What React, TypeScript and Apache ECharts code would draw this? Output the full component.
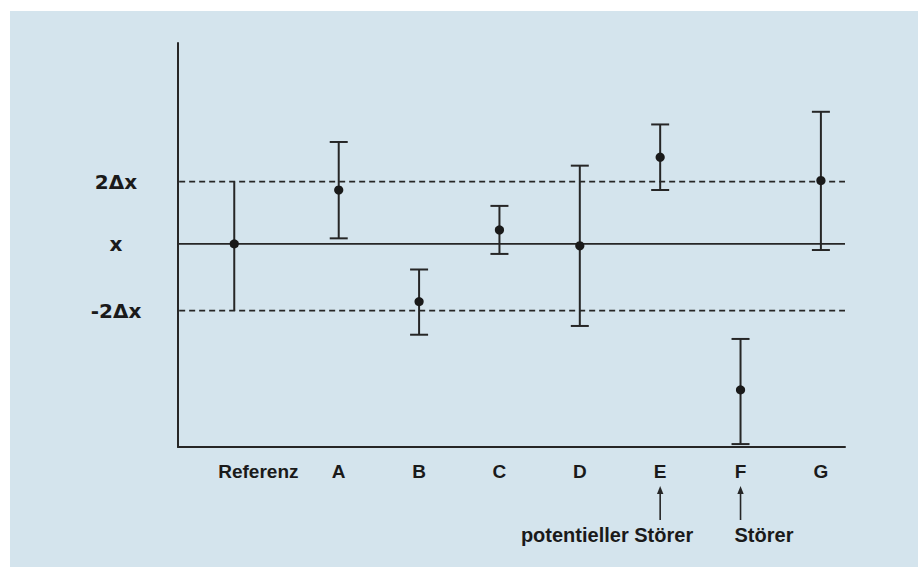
import React, { useEffect, useRef } from "react";
import * as echarts from "echarts";

// Data
const labels = ["Referenz", "A", "B", "C", "D", "E", "F", "G"];
const labelPositions = [0, 1, 2, 3, 4, 5, 6, 7];
const barPositions = [-0.3, 1, 2, 3, 4, 5, 6, 7];
const means = [0, 1.66, -1.78, 0.43, -0.06, 2.67, -4.5, 1.95];
const lows = [-2.06, 0.17, -2.8, -0.31, -2.53, 1.66, -6.17, -0.19];
const highs = [1.92, 3.14, -0.79, 1.17, 2.41, 3.68, -2.93, 4.07];
const hasCaps = [0, 1, 1, 1, 1, 1, 1, 1];

const refValues = [1.92, 0, -2.06];
const refLabels = ["2Δx", "x", "-2Δx"];

const annotationTargets = [5, 6];
const annotationTexts = ["potentieller Störer", "Störer"];

const INK = "#262626";

export default function App() {
  const ref = useRef<HTMLDivElement>(null);

  useEffect(() => {
    if (!ref.current) return;
    const chart = echarts.init(ref.current, undefined, { renderer: "svg" });

    const xMin = -1.11;
    const xMax = 7.3;

    const data = barPositions.map((p, i) => [p, lows[i], highs[i], means[i], hasCaps[i]]);

    chart.setOption({
      animation: false,
      backgroundColor: "transparent",
      grid: { left: 178, top: 43, right: 77, bottom: 120, containLabel: false },
      xAxis: {
        type: "value",
        min: -1,
        max: xMax,
        interval: 1,
        axisLine: { show: true, onZero: false, lineStyle: { color: INK, width: 2 } },
        axisTick: { show: false },
        splitLine: { show: false },
        axisLabel: {
          customValues: labelPositions,
          margin: 15,
          color: "#1a1a1a",
          fontFamily: "Liberation Sans",
          fontWeight: "bold",
          fontSize: 19,
          formatter: (v: number) => {
            const idx = labelPositions.indexOf(Math.round(v));
            return Math.abs(v - Math.round(v)) < 1e-6 && idx >= 0 ? labels[idx] : "";
          },
        },
      },
      yAxis: {
        type: "value",
        min: -6.26,
        max: 6.19,
        axisLine: { show: true, onZero: false, lineStyle: { color: INK, width: 2 } },
        axisTick: { show: false },
        splitLine: { show: false },
        axisLabel: {
          customValues: refValues,
          margin: 62,
          align: "center",
          color: "#1a1a1a",
          fontFamily: "DejaVu Sans",
          fontWeight: "bold",
          fontSize: 20,
          formatter: (v: number) => {
            const idx = refValues.findIndex((r) => Math.abs(r - v) < 1e-6);
            return idx >= 0 ? refLabels[idx] : "";
          },
        },
      },
      series: [
        ...refValues.map((v, i) => ({
          type: "line",
          clip: false,
          symbol: "none",
          silent: true,
          z: 1,
          data: [
            [xMin, v],
            [xMax, v],
          ],
          lineStyle: {
            color: INK,
            width: i === 1 ? 1.7 : 1.8,
            type: i === 1 ? "solid" : [6, 4],
          },
        })),
        {
          type: "custom",
          z: 5,
          data,
          encode: { x: 0, y: [1, 2, 3] },
          renderItem: (params: any, api: any) => {
            const x = api.value(0);
            const lo = api.coord([x, api.value(1)]);
            const hi = api.coord([x, api.value(2)]);
            const mid = api.coord([x, api.value(3)]);
            const caps = api.value(4);
            const style = { stroke: INK, lineWidth: 2 };
            const children: any[] = [
              { type: "line", shape: { x1: lo[0], y1: lo[1], x2: hi[0], y2: hi[1] }, style },
            ];
            if (caps) {
              children.push({
                type: "line",
                shape: { x1: lo[0] - 9, y1: lo[1], x2: lo[0] + 9, y2: lo[1] },
                style,
              });
              children.push({
                type: "line",
                shape: { x1: hi[0] - 9, y1: hi[1], x2: hi[0] + 9, y2: hi[1] },
                style,
              });
            }
            children.push({
              type: "circle",
              shape: { cx: mid[0], cy: mid[1], r: 4.6 },
              style: { fill: "#1a1a1a" },
            });
            return { type: "group", children };
          },
        },
      ],
    });

    const ex = chart.convertToPixel({ xAxisIndex: 0 }, annotationTargets[0]) as number;
    const fx = chart.convertToPixel({ xAxisIndex: 0 }, annotationTargets[1]) as number;
    const arrow = (px: number) => [
      {
        type: "line",
        shape: { x1: px, y1: 520, x2: px, y2: 492 },
        style: { stroke: INK, lineWidth: 1.6 },
      },
      {
        type: "polygon",
        shape: { points: [[px - 3.2, 494], [px + 3.2, 494], [px, 486]] },
        style: { fill: INK },
      },
    ];
    const textStyle = {
      fill: "#1a1a1a",
      font: "bold 20px 'Liberation Sans'",
      textVerticalAlign: "middle",
      verticalAlign: "middle",
    };
    chart.setOption({
      graphic: [
        ...arrow(ex),
        ...arrow(fx),
        {
          type: "text",
          x: ex + 33,
          y: 535,
          style: { ...textStyle, text: annotationTexts[0], textAlign: "right", align: "right" },
        },
        {
          type: "text",
          x: fx - 6,
          y: 535,
          style: { ...textStyle, text: annotationTexts[1], textAlign: "left", align: "left" },
        },
      ],
    });

    return () => chart.dispose();
  }, []);

  return (
    <div
      style={{
        position: "absolute",
        left: 0,
        top: 0,
        width: 922,
        height: 567,
        background: "#ffffff",
        overflow: "hidden",
      }}
    >
      <div
        style={{
          position: "absolute",
          left: 10,
          top: 11,
          width: 908,
          height: 556,
          background: "#d4e4ed",
        }}
      />
      <div ref={ref} style={{ position: "absolute", left: 0, top: 0, width: 922, height: 567 }} />
    </div>
  );
}
